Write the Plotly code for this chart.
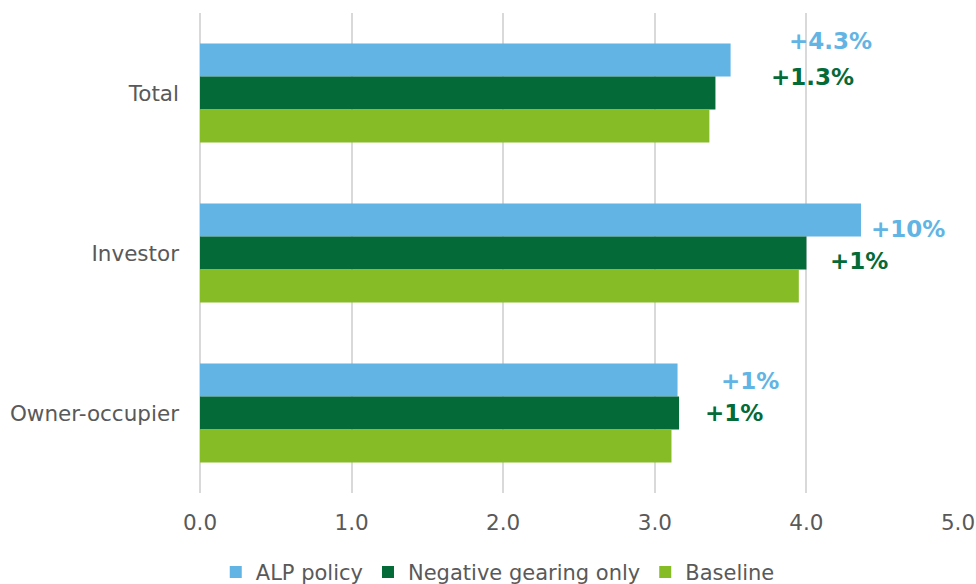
import plotly.graph_objects as go

categories = ["Total", "Investor", "Owner-occupier"]
series_names = ["ALP policy", "Negative gearing only", "Baseline"]
alp_policy = [3.50, 4.36, 3.15]
negative_gearing = [3.40, 4.00, 3.16]
baseline = [3.36, 3.95, 3.11]
colors = ["#62B4E4", "#046A38", "#86BC25"]

# change labels: text, colour, x position (data), y offset from category centre
alp_labels = ["+4.3%", "+10%", "+1%"]
ng_labels = ["+1.3%", "+1%", "+1%"]
alp_label_x = [4.16, 4.67, 3.63]
ng_label_x = [4.04, 4.35, 3.52]
alp_label_dy = [-0.325, -0.15, -0.20]
ng_label_dy = [-0.10, 0.05, 0.0]

font_family = "DejaVu Sans"
grey = "#595959"

fig = go.Figure()
for name, vals, col in zip(series_names, [alp_policy, negative_gearing, baseline], colors):
    fig.add_trace(go.Bar(
        y=categories, x=vals, name=name, orientation="h",
        marker=dict(color=col, line=dict(width=0)),
    ))

for i in range(len(categories)):
    fig.add_annotation(x=alp_label_x[i], y=i + alp_label_dy[i], text=alp_labels[i],
                       showarrow=False, xref="x", yref="y",
                       font=dict(family=font_family, size=23, color=colors[0], weight="bold"))
    fig.add_annotation(x=ng_label_x[i], y=i + ng_label_dy[i], text=ng_labels[i],
                       showarrow=False, xref="x", yref="y",
                       font=dict(family=font_family, size=23, color=colors[1], weight="bold"))

fig.update_layout(
    width=976, height=584,
    margin=dict(l=200, r=18, t=13, b=91, autoexpand=False),
    plot_bgcolor="white", paper_bgcolor="white",
    barmode="group", bargap=0.38, bargroupgap=0,
    font=dict(family=font_family, size=21.5, color=grey),
    xaxis=dict(range=[0, 5], dtick=1, tickformat=".1f", automargin=False,
               showgrid=True, gridcolor="#D9D9D9", gridwidth=1.5,
               zeroline=True, zerolinecolor="#D9D9D9", zerolinewidth=1.5,
               showline=False, ticks="", ticklabelstandoff=14,
               tickfont=dict(size=21.5, color=grey)),
    yaxis=dict(autorange="reversed", showgrid=False, showline=False, ticks="",
               automargin=False, ticklabelstandoff=20,
               tickfont=dict(size=21.5, color=grey)),
    legend=dict(orientation="h", xref="container", yref="container",
                x=0.51, xanchor="center", y=0.02, yanchor="middle",
                font=dict(size=21, color=grey), itemwidth=30, tracegroupgap=0),
    showlegend=True,
)

fig.write_html("out.html")
